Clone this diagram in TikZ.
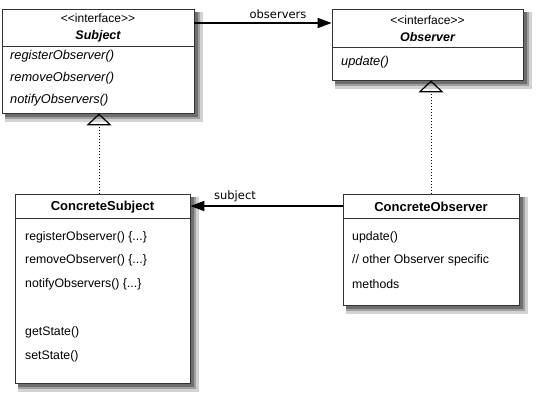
\documentclass[tikz,border=0pt]{standalone}
\usepackage{fontspec}
\newfontfamily\umlfont{Liberation Sans}
\newfontfamily\labelfont{DejaVu Sans}
\usetikzlibrary{positioning,arrows.meta}

\definecolor{shadowdark}{RGB}{110,110,110}
\definecolor{shadowmid}{RGB}{160,160,160}
\definecolor{shadowlight}{RGB}{210,210,210}

\tikzset{
	classbox/.style={draw=black!80, line width=0.8pt, fill=white, inner sep=0pt},
	member/.style={anchor=west, inner sep=0pt, font=\umlfont\fontsize{12.3}{14}\selectfont},
	title/.style={inner sep=0pt, font=\umlfont\fontsize{12}{14}\selectfont},
	linklabel/.style={inner sep=0pt, font=\labelfont\fontsize{11.5}{14}\selectfont},
	assoc/.style={line width=1.6pt, -{Triangle[length=14pt,width=10pt]}},
	realize/.style={line width=1pt, dotted, -{Triangle[open,length=12pt,width=25pt,line width=1.2pt]}}
}

\begin{document}
\begin{tikzpicture}[x=1pt,y=-1pt]

		\useasboundingbox (0,0) rectangle (537,401);

		% Shadows behind the boxes
		\fill[shadowlight] (5,12) rectangle (203,122);
		\fill[shadowmid] (5,12) rectangle (200,119);
		\fill[shadowdark] (5,12) rectangle (198,117);
		\fill[shadowlight] (335,12) rectangle (532,89);
		\fill[shadowmid] (335,12) rectangle (529,86);
		\fill[shadowdark] (335,12) rectangle (527,84);
		\fill[shadowlight] (18,197) rectangle (199,392);
		\fill[shadowmid] (18,197) rectangle (196,389);
		\fill[shadowdark] (18,197) rectangle (194,387);
		\fill[shadowlight] (346,197) rectangle (528,314);
		\fill[shadowmid] (346,197) rectangle (525,311);
		\fill[shadowdark] (346,197) rectangle (523,309);

		% Subject interface
		\node[classbox, minimum width=192pt, minimum height=104pt] (subj) at (98,61) {};
		\draw[black!80, line width=0.8pt] (subj.west |- 0,46) -- (subj.east |- 0,46);
		\node[title] (subjst) at (98,18) {<<interface>>};
		\node[title, font=\umlfont\fontsize{12.5}{14}\selectfont\bfseries\itshape] (subjname) at (98,36) {Subject};
		\node[member, font=\umlfont\fontsize{12.8}{14}\selectfont\itshape] (subjreg) at (10,56) {registerObserver()};
		\node[member, font=\umlfont\fontsize{12.8}{14}\selectfont\itshape] (subjrem) at (10,78) {removeObserver()};
		\node[member, font=\umlfont\fontsize{12.8}{14}\selectfont\itshape] (subjnot) at (10,100) {notifyObservers()};

		% Observer interface
		\node[classbox, minimum width=191pt, minimum height=71pt] (obs) at (427.5,44.5) {};
		\draw[black!80, line width=0.8pt] (obs.west |- 0,47) -- (obs.east |- 0,47);
		\node[title] (obsst) at (427.5,20) {<<interface>>};
		\node[title, font=\umlfont\fontsize{12.5}{14}\selectfont\bfseries\itshape] (obsname) at (427.5,37) {Observer};
		\node[member, font=\umlfont\fontsize{12.8}{14}\selectfont\itshape] (obsupd) at (341,62) {update()};

		% ConcreteSubject
		\node[classbox, minimum width=175pt, minimum height=189pt] (csubj) at (102.5,288.5) {};
		\draw[black!80, line width=0.8pt] (csubj.west |- 0,218) -- (csubj.east |- 0,218);
		\node[title, font=\umlfont\fontsize{13}{14}\selectfont\bfseries] (csubjname) at (102.5,207) {ConcreteSubject};
		\node[member] (csreg) at (25,237) {registerObserver() \{...\}};
		\node[member] (csrem) at (25,260) {removeObserver() \{...\}};
		\node[member] (csnot) at (25,284) {notifyObservers() \{...\}};
		\node[member] (csget) at (25,332) {getState()};
		\node[member] (csset) at (25,356) {setState()};

		% ConcreteObserver
		\node[classbox, minimum width=176pt, minimum height=111pt] (cobs) at (431,249.5) {};
		\draw[black!80, line width=0.8pt] (cobs.west |- 0,218) -- (cobs.east |- 0,218);
		\node[title, font=\umlfont\fontsize{13}{14}\selectfont\bfseries] (cobsname) at (431,207) {ConcreteObserver};
		\node[member] (coupd) at (352,237) {update()};
		\node[member] (cooth) at (352,260) {// other Observer specific};
		\node[member] (comet) at (352,284) {methods};

		% Associations
		\coordinate (obsline) at (0,23);
		\coordinate (subjline) at (0,206);
		\draw[assoc] (subj.east |- obsline) -- (obs.west |- obsline);
		\node[linklabel] (obslabel) at (278,14) {observers};
		\draw[assoc] (cobs.west |- subjline) -- (csubj.east |- subjline);
		\node[linklabel] (subjlabel) at (235,196) {subject};

		% Implements
		\draw[realize] (csubj.north -| 99,0) -- (subj.south -| 99,0);
		\draw[realize] (cobs.north) -- (cobs.north |- obs.south);

	\end{tikzpicture}
\end{document}
